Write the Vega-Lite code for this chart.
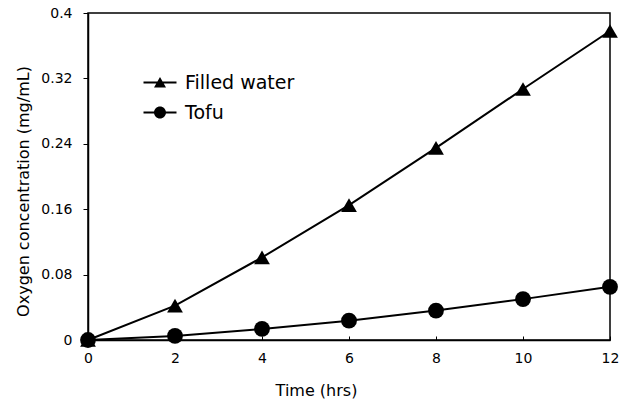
{
  "$schema": "https://vega.github.io/schema/vega-lite/v6.json",
  "width": 522,
  "height": 327,
  "autosize": {"type": "none"},
  "padding": {"left": 88, "top": 13, "right": 21, "bottom": 60},
  "background": "white",
  "config": {
    "view": {"stroke": "black", "strokeWidth": 1.5},
    "axis": {
      "grid": false,
      "labelFlush": false,
      "labelOverlap": false,
      "domainColor": "black",
      "domainWidth": 1.5,
      "tickColor": "black",
      "tickWidth": 1,
      "labelColor": "black",
      "titleColor": "black",
      "labelFont": "DejaVu Sans",
      "titleFont": "DejaVu Sans",
      "titleFontWeight": "normal",
      "labelFontSize": 14,
      "titleFontSize": 16
    }
  },
  "data": {
    "values": [
      {"time": 0, "series": "Filled water", "value": 0},
      {"time": 2, "series": "Filled water", "value": 0.042},
      {"time": 4, "series": "Filled water", "value": 0.101},
      {"time": 6, "series": "Filled water", "value": 0.165},
      {"time": 8, "series": "Filled water", "value": 0.235},
      {"time": 10, "series": "Filled water", "value": 0.307},
      {"time": 12, "series": "Filled water", "value": 0.378},
      {"time": 0, "series": "Tofu", "value": 0},
      {"time": 2, "series": "Tofu", "value": 0.005},
      {"time": 4, "series": "Tofu", "value": 0.0135},
      {"time": 6, "series": "Tofu", "value": 0.0236},
      {"time": 8, "series": "Tofu", "value": 0.036},
      {"time": 10, "series": "Tofu", "value": 0.05},
      {"time": 12, "series": "Tofu", "value": 0.065}
    ]
  },
  "encoding": {
    "x": {
      "field": "time",
      "type": "quantitative",
      "scale": {"domain": [0, 12], "nice": false},
      "axis": {
        "values": [0, 2, 4, 6, 8, 10, 12],
        "title": "Time (hrs)",
        "tickSize": -4,
        "labelPadding": 15,
        "titleX": 228,
        "titleY": 55,
        "titleAlign": "center",
        "titleBaseline": "alphabetic"
      }
    },
    "y": {
      "field": "value",
      "type": "quantitative",
      "scale": {"domain": [0, 0.4], "nice": false},
      "axis": {
        "values": [0, 0.08, 0.16, 0.24, 0.32, 0.4],
        "format": "~g",
        "title": "Oxygen concentration (mg/mL)",
        "tickSize": 5,
        "labelPadding": 11,
        "titleX": -57,
        "titleY": 178,
        "titleAngle": -90,
        "titleAlign": "center",
        "titleBaseline": "bottom"
      }
    }
  },
  "layer": [
    {
      "mark": {"type": "line", "color": "black", "strokeWidth": 2},
      "encoding": {"detail": {"field": "series"}}
    },
    {
      "mark": {"type": "point", "filled": true, "color": "black", "opacity": 1, "size": 250},
      "encoding": {
        "shape": {
          "field": "series",
          "type": "nominal",
          "scale": {"domain": ["Filled water", "Tofu"], "range": ["triangle-up", "circle"]},
          "legend": null
        }
      }
    },
    {
      "transform": [{"filter": "false"}],
      "mark": {"type": "point", "filled": true, "color": "black", "opacity": 1},
      "encoding": {
        "shape": {
          "field": "series",
          "type": "nominal",
          "scale": {
            "domain": ["Filled water", "Tofu"],
            "range": [
              "M-2.75,-0.17H2.75V0.17H-2.75ZM0,-0.9L1,0.85L-1,0.85Z",
              "M-2.75,-0.17H2.75V0.17H-2.75ZM1,0A1,1,0,1,1,-1,0A1,1,0,1,1,1,0Z"
            ]
          },
          "legend": {
            "title": null,
            "orient": "none",
            "legendX": 62.5,
            "legendY": 60,
            "padding": 0,
            "symbolSize": 144,
            "symbolOpacity": 1,
            "symbolFillColor": "black",
            "labelFont": "DejaVu Sans",
            "labelFontSize": 19,
            "labelColor": "black",
            "labelOffset": 15.5,
            "rowPadding": 10
          }
        }
      }
    }
  ],
  "resolve": {"scale": {"shape": "independent"}, "legend": {"shape": "independent"}}
}
